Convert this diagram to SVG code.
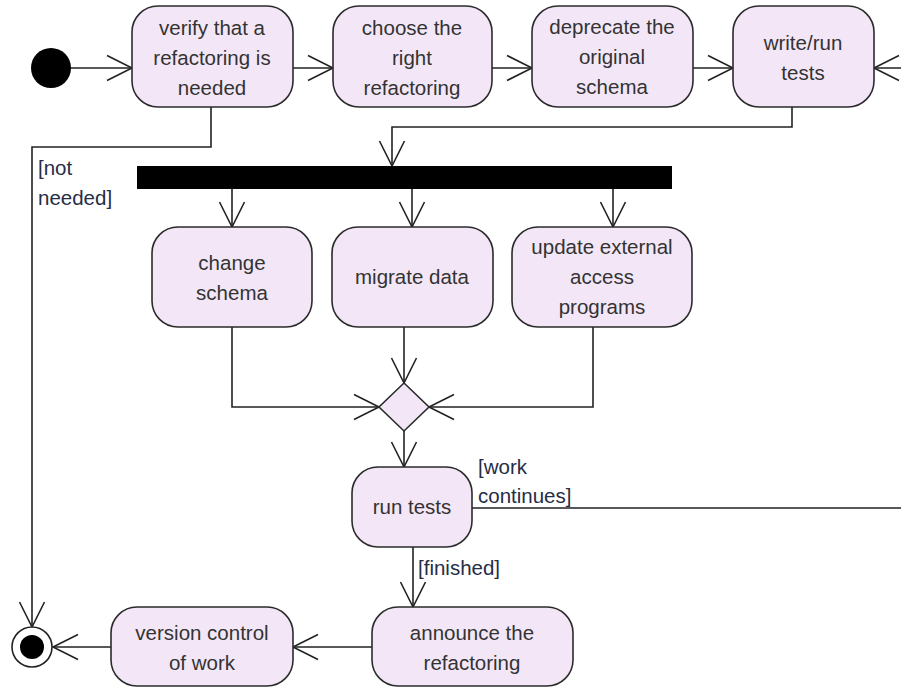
<svg xmlns="http://www.w3.org/2000/svg" width="901" height="687" viewBox="0 0 901 687">
<style>
.act{fill:#f3e7f7;stroke:#2b2b2b;stroke-width:1.6}
.t{font-family:"Liberation Sans",Arial,sans-serif;font-size:20.5px;fill:#333;text-anchor:middle}
.g{font-family:"Liberation Sans",Arial,sans-serif;font-size:20.5px;fill:#262d45}
.c{fill:none;stroke:#222;stroke-width:1.6}
</style>
<defs>
<marker id="ah" markerUnits="userSpaceOnUse" markerWidth="30" markerHeight="30" viewBox="-27 -14 30 28" refX="0" refY="0" orient="auto" overflow="visible">
<path d="M-25,-12.5 L0,0 L-25,12.5" fill="none" stroke="#222" stroke-width="1.6"/>
</marker>
</defs>
<rect width="901" height="687" fill="#fff"/>
<g id="connectors">
<path class="c" d="M71,68 H132" marker-end="url(#ah)"/>
<path class="c" d="M293,68 H333" marker-end="url(#ah)"/>
<path class="c" d="M492,68 H532" marker-end="url(#ah)"/>
<path class="c" d="M693,68 H733" marker-end="url(#ah)"/>
<path class="c" d="M472,508 H930 V68 H874" marker-end="url(#ah)"/>
<path class="c" d="M211,107 V147 H32 V627" marker-end="url(#ah)"/>
<path class="c" d="M792,107 V127 H392 V166" marker-end="url(#ah)"/>
<path class="c" d="M232,189 V227" marker-end="url(#ah)"/>
<path class="c" d="M412,189 V227" marker-end="url(#ah)"/>
<path class="c" d="M613,189 V227" marker-end="url(#ah)"/>
<path class="c" d="M232,327 V407 H379" marker-end="url(#ah)"/>
<path class="c" d="M404,327 V383" marker-end="url(#ah)"/>
<path class="c" d="M593,327 V407 H429" marker-end="url(#ah)"/>
<path class="c" d="M404,431 V467" marker-end="url(#ah)"/>
<path class="c" d="M413,547 V607" marker-end="url(#ah)"/>
<path class="c" d="M372,647 H293" marker-end="url(#ah)"/>
<path class="c" d="M111,647 H53" marker-end="url(#ah)"/>
<text class="g" x="38" y="175">[not</text>
<text class="g" x="38" y="205">needed]</text>
<text class="g" x="478" y="474">[work</text>
<text class="g" x="478" y="503">continues]</text>
<text class="g" x="418" y="575">[finished]</text>
</g>
<g id="start"><circle cx="51" cy="68" r="20" fill="#000"/></g>
<g id="verify"><rect class="act" x="132" y="6" width="161" height="101" rx="26"/>
<text class="t" x="212" y="35">verify that a</text><text class="t" x="212" y="65">refactoring is</text><text class="t" x="212" y="95">needed</text></g>
<g id="choose"><rect class="act" x="333" y="6" width="159" height="101" rx="26"/>
<text class="t" x="412" y="35">choose the</text><text class="t" x="412" y="65">right</text><text class="t" x="412" y="95">refactoring</text></g>
<g id="deprecate"><rect class="act" x="532" y="6" width="161" height="101" rx="26"/>
<text class="t" x="612" y="34">deprecate the</text><text class="t" x="612" y="64">original</text><text class="t" x="612" y="94">schema</text></g>
<g id="writerun"><rect class="act" x="733" y="6" width="141" height="101" rx="26"/>
<text class="t" x="803" y="50">write/run</text><text class="t" x="803" y="80">tests</text></g>
<g id="fork"><rect x="137" y="166" width="535" height="23" fill="#000"/></g>
<g id="change"><rect class="act" x="152" y="227" width="160" height="100" rx="26"/>
<text class="t" x="232" y="270">change</text><text class="t" x="232" y="300">schema</text></g>
<g id="migrate"><rect class="act" x="332" y="227" width="161" height="100" rx="26"/>
<text class="t" x="412" y="284">migrate data</text></g>
<g id="update"><rect class="act" x="512" y="227" width="180" height="100" rx="26"/>
<text class="t" x="602" y="254">update external</text><text class="t" x="602" y="284">access</text><text class="t" x="602" y="314">programs</text></g>
<g id="merge"><path class="act" d="M404,383 L429,407 L404,431 L379,407 Z"/></g>
<g id="runtests"><rect class="act" x="352" y="467" width="120" height="80" rx="26"/>
<text class="t" x="412" y="514">run tests</text></g>
<g id="announce"><rect class="act" x="372" y="607" width="201" height="79" rx="26"/>
<text class="t" x="472" y="640">announce the</text><text class="t" x="472" y="670">refactoring</text></g>
<g id="version"><rect class="act" x="111" y="607" width="182" height="79" rx="26"/>
<text class="t" x="202" y="640">version control</text><text class="t" x="202" y="670">of work</text></g>
<g id="end"><circle cx="32" cy="647" r="20" fill="#fff" stroke="#222" stroke-width="1.6"/><circle cx="32" cy="647" r="12" fill="#000"/></g>
</svg>
